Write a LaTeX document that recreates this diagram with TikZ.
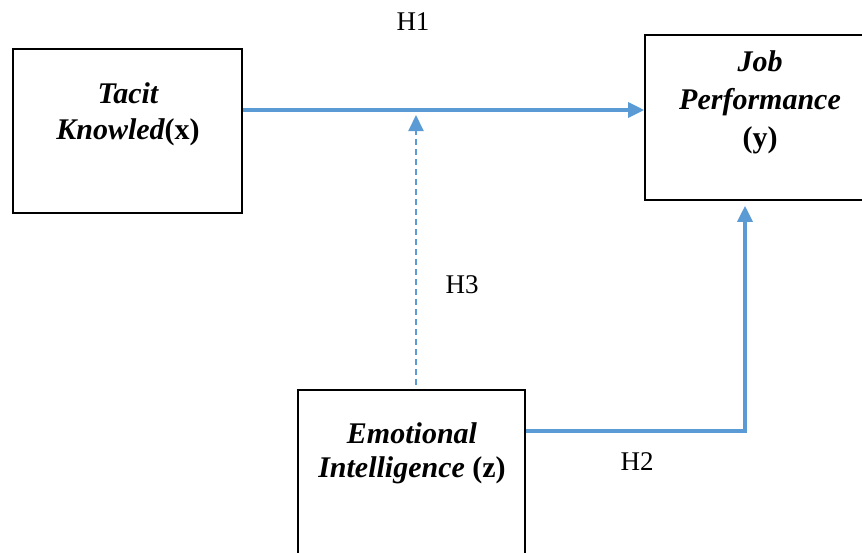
\documentclass[tikz,border=0pt]{standalone}
\usepackage{fontspec}
\setmainfont{Liberation Serif}
\usetikzlibrary{arrows.meta,positioning}
\definecolor{linkblue}{HTML}{5B9BD5}

\begin{document}
\begin{tikzpicture}
   [x=1pt, y=-1pt,
    varbox/.style={draw=black, line width=1.6pt, inner sep=0pt},
    vartext/.style={align=center, font=\fontsize{30}{36}\selectfont\bfseries\itshape},
    link/.style={draw=linkblue, line width=3.4pt, -{Triangle[length=16pt,width=15pt]}},
    hyp/.style={font=\fontsize{27}{30}\selectfont}]
     \useasboundingbox (0,0) rectangle (862,552);
     \clip (0,0) rectangle (862,552);
     % draw boxes
     \node (X) [varbox, minimum width=229pt, minimum height=164pt] at (127.5,131) {};
     \node (Y) [varbox, minimum width=225pt, minimum height=165pt] at (757.5,117.5) {};
     \node (Z) [varbox, minimum width=227pt, minimum height=170pt] at (411.5,475) {};
     % draw texts
     \node (Xt) [vartext] at (128,114) {Tacit\\Knowled\upshape(x)};
     \node (Yt) [vartext, font=\fontsize{30}{38}\selectfont\bfseries\itshape] at (760,102) {Job\\Performance\\\upshape(y)};
     \node (Zt) [vartext, font=\fontsize{30}{34}\selectfont\bfseries\itshape] at (412,453) {Emotional\\Intelligence \upshape(z)};
     % draw links
     \coordinate (h1) at (0,110);
     \coordinate (mod) at (416,115);
     \coordinate (corner) at (745,431);
     \draw [link] (X.east |- h1) -- (Y.west |- h1);
     \draw [link, line width=2pt, dash pattern=on 6pt off 4pt] ([yshift=4pt]Z.north -| mod) -- (mod);
     \draw [link, shorten >=5pt] (Z.east |- corner) -- (corner) -- (Y.south -| corner);
     % hypotheses
     \node (H1) [hyp] at (413,22) {H1};
     \node (H3) [hyp] at (462,285) {H3};
     \node (H2) [hyp] at (637,462) {H2};
 \end{tikzpicture}
\end{document}
